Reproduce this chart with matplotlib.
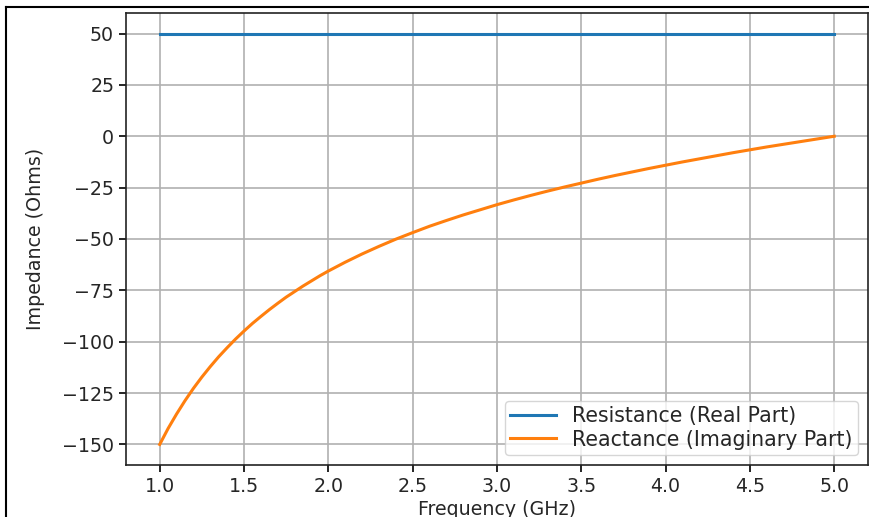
import matplotlib.pyplot as plt
from matplotlib.lines import Line2D

# frequency points (GHz) and impedance values
freq = [1.0, 1.05, 1.1, 1.15, 1.2, 1.25, 1.3, 1.35, 1.4, 1.45, 1.5, 1.55, 1.6, 1.65,
        1.7, 1.75, 1.8, 1.85, 1.9, 1.95,
        2.0, 2.1, 2.2, 2.3, 2.4, 2.5, 2.6, 2.7, 2.8, 2.9,
        3.0, 3.1, 3.2, 3.3, 3.4, 3.5, 3.6, 3.7, 3.8, 3.9,
        4.0, 4.1, 4.2, 4.3, 4.4, 4.5, 4.6, 4.7, 4.8, 4.9, 5.0]
resistance = [50.0] * len(freq)
reactance = [-150.0, -142.2, -135.2, -128.7, -122.7, -117.2, -112.1, -107.3, -102.9, -98.7,
             -94.8, -91.1, -87.7, -84.4, -81.3, -78.3, -75.6, -72.9, -70.4, -67.9,
             -65.6, -61.3, -57.3, -53.6, -50.1, -46.9, -43.8, -41.0, -38.3, -35.8,
             -33.3, -31.0, -28.8, -26.7, -24.7, -22.8, -20.9, -19.1, -17.4, -15.7,
             -14.1, -12.5, -11.0, -9.5, -8.0, -6.6, -5.2, -3.9, -2.6, -1.3, 0.0]

fs = 13.7
txt = '#262626'
plt.rcParams['font.size'] = fs
plt.rcParams['text.color'] = txt
plt.rcParams['axes.labelcolor'] = txt
plt.rcParams['xtick.labelcolor'] = txt
plt.rcParams['ytick.labelcolor'] = txt

fig = plt.figure(figsize=(8.7, 5.17), dpi=100)
ax = fig.add_axes([0.1448, 0.1006, 0.8529, 0.8743])

ax.plot(freq, resistance, color='#1f77b4', lw=2.2, label='Resistance (Real Part)')
ax.plot(freq, reactance, color='#ff7f0e', lw=2.2, label='Reactance (Imaginary Part)')

ax.set_xlabel('Frequency (GHz)', fontsize=fs, labelpad=3)
ax.set_ylabel('Impedance (Ohms)', fontsize=fs, labelpad=12)
ax.grid(True, color='#b0b0b0', lw=1.2)
ax.tick_params(labelsize=fs, width=1.2, length=5)
for s in ax.spines.values():
    s.set_linewidth(1.2)
    s.set_color('#222222')
ax.legend(loc='lower right', fontsize=14.8, handlelength=2.2,
          labelspacing=0.15, borderpad=0.25)

# screenshot frame lines (top and left)
fig.add_artist(Line2D([6 / 870, 1.0], [1 - 7 / 517, 1 - 7 / 517], color='black', lw=1.5,
                      transform=fig.transFigure))
fig.add_artist(Line2D([6 / 870, 6 / 870], [0.0, 1 - 7 / 517], color='black', lw=1.5,
                      transform=fig.transFigure))

fig.savefig('out.png', dpi=100)
